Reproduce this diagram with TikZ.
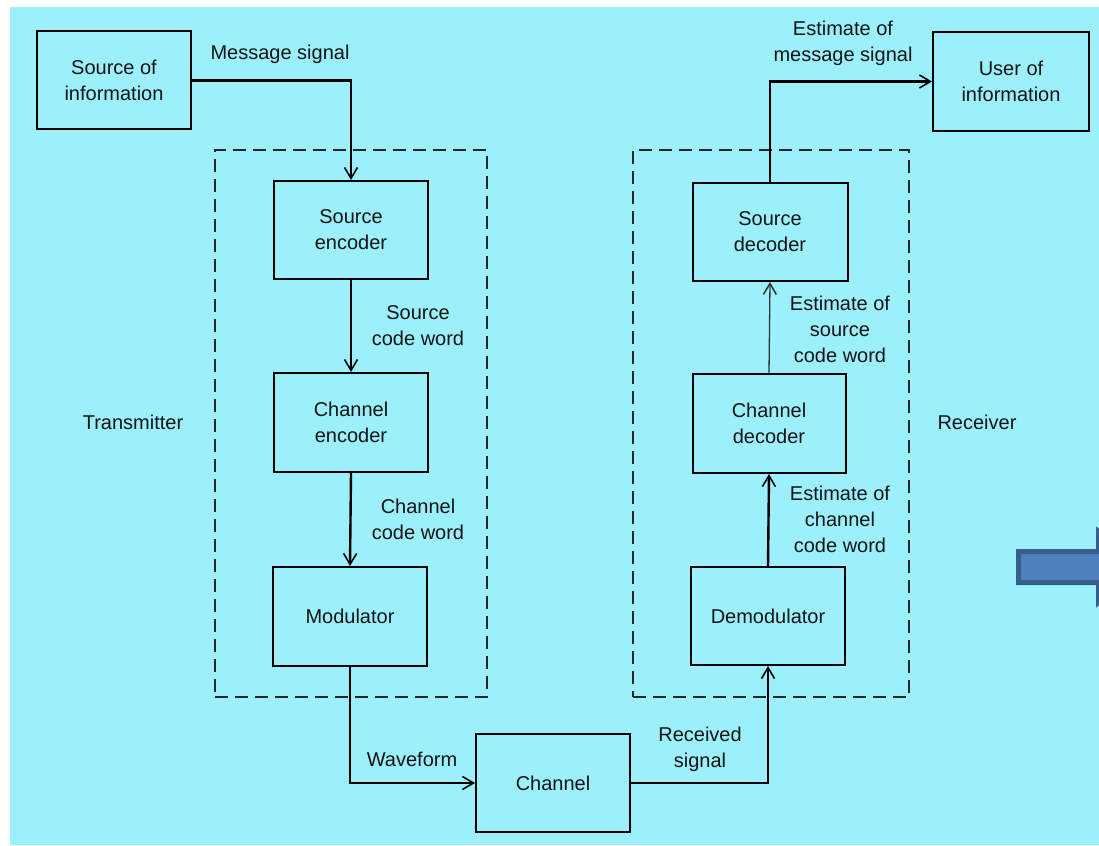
\documentclass[tikz,border=0pt]{standalone}
\usepackage{fontspec}
\setmainfont{Liberation Sans}
\usetikzlibrary{arrows.meta}
\definecolor{bgcyan}{RGB}{155,240,252}
\definecolor{arrfill}{RGB}{79,129,189}
\definecolor{arrborder}{RGB}{56,93,138}
\definecolor{ink}{RGB}{20,20,20}
\tikzset{
  blk/.style={draw=black, line width=2pt, minimum width=154pt, minimum height=98pt, inner sep=0pt, align=center, text=ink},
  grp/.style={draw=black!85, line width=1.8pt, dash pattern=on 13pt off 7pt, inner sep=0pt},
  lbl/.style={align=center, text=ink, inner sep=0pt},
  flow/.style={draw=black, line width=2.4pt, -{Straight Barb[length=11pt,width=13pt,line width=1.6pt]}},
  thinflow/.style={draw=black!80, line width=1.3pt, -{Straight Barb[length=11pt,width=13pt,line width=1.5pt]}},
  every node/.style={font=\fontsize{20}{26}\selectfont}
}
\begin{document}
\begin{tikzpicture}[x=1pt,y=-1pt]
\useasboundingbox (0,0) rectangle (1099,845);
\fill[white] (0,0) rectangle (1099,845);
\fill[bgcyan] (10,7) rectangle (1099,845);

% group frames
\node[grp, minimum width=272pt, minimum height=547pt] (tx) at (351,423.5) {};
\node[grp, minimum width=276pt, minimum height=547pt] (rx) at (771,423.5) {};

% blocks
\node[blk] (srcinfo) at (114,80.5) {Source of\\information};
\node[blk, minimum width=156pt, minimum height=99pt] (user) at (1011,81.5) {User of\\information};
\node[blk] (senc) at (351,230) {Source\\encoder};
\node[blk, minimum height=99pt] (cenc) at (351,422.5) {Channel\\encoder};
\node[blk, minimum height=99pt] (mod) at (350,616.5) {Modulator};
\node[blk, minimum width=155pt] (sdec) at (770,232) {Source\\decoder};
\node[blk, minimum width=153pt, minimum height=99pt] (cdec) at (769,423.5) {Channel\\decoder};
\node[blk] (demod) at (768,616) {Demodulator};
\node[blk] (chan) at (553,783) {Channel};

% connectors
\draw[flow] (srcinfo.east) -| (senc.north);
\draw[flow] (senc.south) -- (cenc.north);
\draw[flow] (cenc.south) -- (mod.north);
\draw[flow] (mod.south) |- (chan.west);
\draw[flow] (chan.east) -| (demod.south);
\draw[flow] (demod.north) -- (cdec.south);
\draw[thinflow] (cdec.north) -- (sdec.south);
\draw[flow] (sdec.north) |- (user.west);

% labels
\node[lbl] (lmsg) at (280,54) {Message signal};
\node[lbl] (lscw) at (418,325.5) {Source\\code word};
\node[lbl] (lccw) at (418,519.5) {Channel\\code word};
\node[lbl] (lemsg) at (843,43.5) {Estimate of\\message signal};
\node[lbl] (lescw) at (840,329) {Estimate of\\source\\code word};
\node[lbl] (leccw) at (840,519) {Estimate of\\channel\\code word};
\node[lbl] (lwave) at (412,759) {Waveform};
\node[lbl] (lrecv) at (700,749) {Received\\signal};
\node[lbl] (ltx) at (133,422) {Transmitter};
\node[lbl] (lrx) at (977,422) {Receiver};

% blue block arrow (cut off at the right edge)
\begin{scope}
\clip (0,0) rectangle (1099,845);
\filldraw[fill=arrfill, draw=arrborder, line width=5pt, line join=miter]
  (1018.5,551.5) -- (1098.5,551.5) -- (1098.5,531.5) -- (1145,567)
  -- (1098.5,602.5) -- (1098.5,582.5) -- (1018.5,582.5) -- cycle;
\end{scope}
\end{tikzpicture}
\end{document}
